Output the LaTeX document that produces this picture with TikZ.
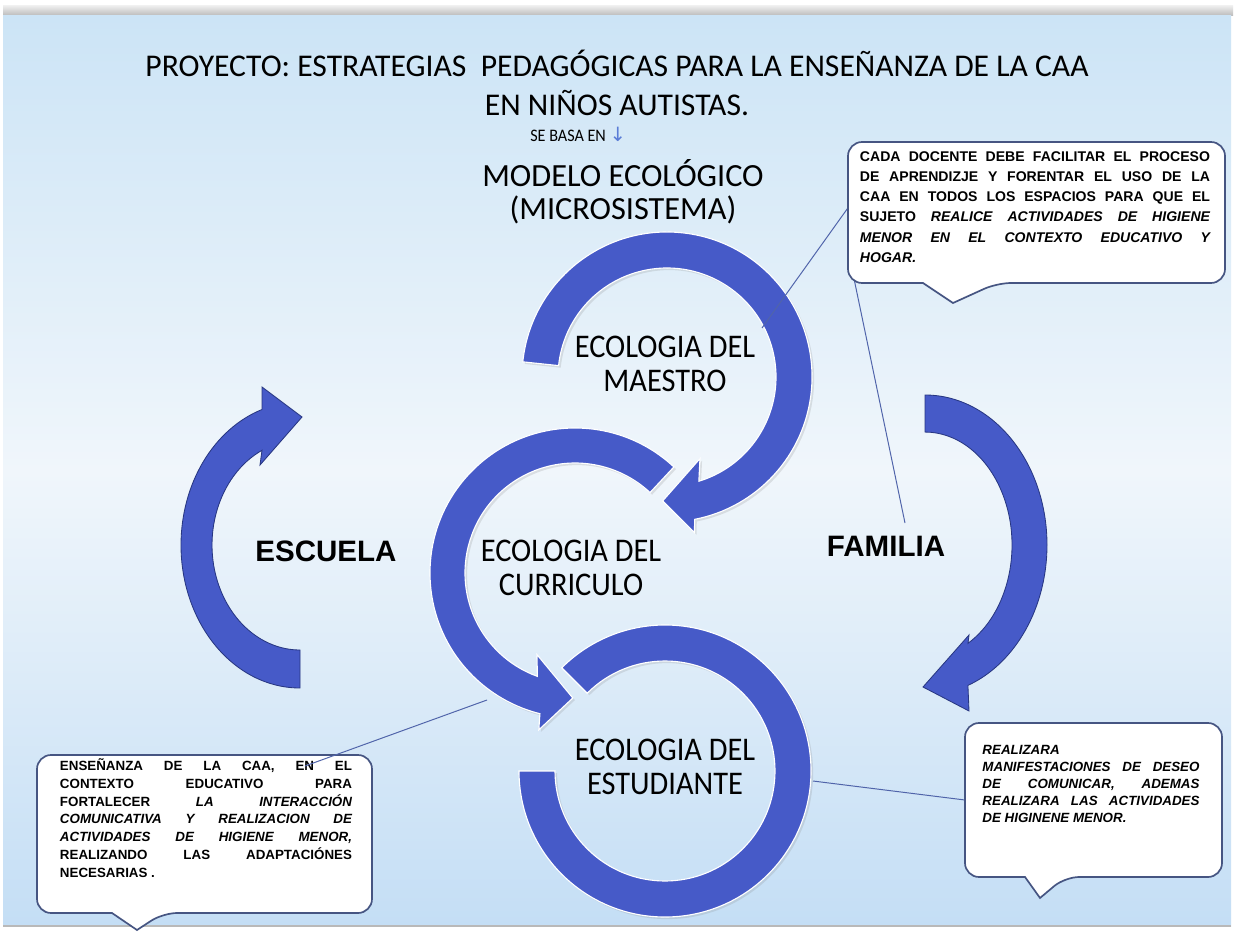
\documentclass[tikz,border=0pt]{standalone}
\usepackage{fontspec}
\usepackage{xcolor}
\usepackage{tikz}
\usetikzlibrary{shadows}
\setmainfont{Carlito}
\newfontfamily\condfont{Carlito}[FakeStretch=0.92]
\newfontfamily\boldfont{Liberation Sans}
\newfontfamily\boxfont{Liberation Sans}
\newfontfamily\symfont{DejaVu Sans}
\definecolor{ringblue}{RGB}{70,90,200}
\definecolor{edgeblue}{RGB}{40,55,130}
\definecolor{boxline}{RGB}{70,85,130}
\definecolor{lineblue}{RGB}{80,100,170}
\definecolor{arrowblue}{RGB}{90,125,215}
\definecolor{bgtop}{RGB}{204,228,246}
\definecolor{bgmid}{RGB}{240,246,251}
\definecolor{bgbot}{RGB}{196,222,245}
\newcommand*{\boxsetup}{\tolerance=9999\hyphenpenalty=10000\parindent=0pt}

\begin{document}
\begin{tikzpicture}[x=0.025cm, y=0.025cm,
    ringband/.style={fill=ringblue, draw=white, line width=0.8pt,
        drop shadow={opacity=0.2, shadow xshift=1.5pt, shadow yshift=-1.5pt}},
    sidearrow/.style={fill=ringblue, draw=edgeblue, line width=0.6pt},
    calloutbox/.style={fill=white, draw=boxline, line width=1.2pt, rounded corners=10pt},
    pointer/.style={draw=lineblue, line width=0.7pt},
    ringlabel/.style={font=\condfont\fontsize{23.5}{24}\selectfont, align=center, inner sep=0pt},
    sidelabel/.style={font=\boldfont\bfseries\fontsize{21}{21}\selectfont, inner sep=0pt},
    boxtext/.style={font=\boxfont\bfseries\fontsize{9.5}{12.7}\selectfont\boxsetup, align=justify, inner sep=0pt}]
    \useasboundingbox (0,0) rectangle (1236,-932);
    \fill[white] (0,0) rectangle (1236,-932);
    \shade[top color=gray!15, bottom color=gray!55] (3,-6) rectangle (1233,-16);
    \shade[top color=bgtop, bottom color=bgbot, middle color=bgmid] (3,-16) rectangle (1231,-926);
    \draw[gray!55, line width=1pt] (3,-926) -- (1231,-926);

    \node[font=\fontsize{22.5}{27.7}\selectfont, align=center] (title) at (617,-83)
        {PROYECTO: ESTRATEGIAS\ \ PEDAGÓGICAS PARA LA ENSEÑANZA DE LA CAA\\EN NIÑOS AUTISTAS.};
    \node[font=\condfont\fontsize{12.5}{12.5}\selectfont, anchor=base west, inner sep=0pt] (basa) at (530,-142)
        {SE BASA EN {\symfont\fontsize{14}{14}\selectfont\color{arrowblue}↓}};
    \node[font=\fontsize{23}{23.5}\selectfont, align=center] (modelo) at (623,-192)
        {MODELO ECOLÓGICO\\(MICROSISTEMA)};

    \draw[ringband, shift={(665,-771)}] (180:146) arc[start angle=180, end angle=495, radius=146]
        -- (135:110) arc[start angle=135, end angle=-180, radius=110] -- cycle;
    \draw[ringband, shift={(575,-573)}] (47:145) arc[start angle=47, end angle=256, radius=145]
        -- (257:161) -- (269:125) -- (245:90) -- (250:110) arc[start angle=250, end angle=47, radius=110] -- cycle;
    \draw[ringband, shift={(667,-377)}] (174:145) arc[start angle=174, end angle=-79, radius=145]
        -- (-80:158) -- (-92:124) -- (-68:88) -- (-73:109) arc[start angle=-73, end angle=174, radius=109] -- cycle;

    \draw[sidearrow, shift={(300,-545)}] (0,-143) arc[start angle=270, end angle=108.6, x radius=119, y radius=143]
        -- (-38,158) -- (2,128) -- (-40,80) -- (-38,94.7) arc[start angle=115.6, end angle=270, x radius=88, y radius=105] -- cycle;
    \draw[sidearrow, shift={(925,-545)}] (0,150) arc[start angle=90, end angle=-69.4, x radius=122, y radius=150]
        -- (44,-166) -- (-2,-142) -- (44,-90) -- (43,-98.3) arc[start angle=-60.4, end angle=90, x radius=87, y radius=113] -- cycle;

    \node[ringlabel] (maestro) at (665,-364) {ECOLOGIA DEL\\MAESTRO};
    \node[ringlabel] (curriculo) at (571,-568) {ECOLOGIA DEL\\CURRICULO};
    \node[ringlabel] (estudiante) at (665,-767) {ECOLOGIA DEL\\ESTUDIANTE};
    \node[sidelabel] (escuela) at (326,-551) {ESCUELA};
    \node[sidelabel] (familia) at (886,-546) {FAMILIA};

    \coordinate (docA) at (850,-205);
    \coordinate (maestroEnd) at (762,-328);
    \coordinate (docB) at (848,-250);
    \coordinate (familiaEnd) at (905,-523);
    \coordinate (reaA) at (965,-800);
    \coordinate (estEnd) at (813,-781);
    \coordinate (ensA) at (305,-766);
    \coordinate (curEnd) at (487,-700);
    \draw[pointer] (docA) -- (maestroEnd);
    \draw[pointer] (docB) -- (familiaEnd);
    \draw[pointer] (estEnd) -- (reaA);

    \draw[calloutbox] (848,-142) -- (1225,-142) -- (1225,-283) -- (997,-283)
        {[sharp corners] -- (953,-303) -- (923,-283)} -- (848,-283) -- cycle;
    \draw[calloutbox] (37,-755) -- (372,-755) -- (372,-913) -- (163,-913)
        {[sharp corners] -- (137,-930) -- (112,-913)} -- (37,-913) -- cycle;
    \draw[calloutbox] (965,-723) -- (1222,-723) -- (1222,-877) -- (1065,-877)
        {[sharp corners] -- (1040,-898) -- (1025,-877)} -- (965,-877) -- cycle;

    \node[boxtext, font=\boxfont\bfseries\fontsize{10}{14.4}\selectfont\boxsetup, text width=8.75cm] (docente) at (1035,-207)
        {CADA DOCENTE DEBE FACILITAR EL PROCESO\linebreak
        DE APRENDIZJE Y FORENTAR EL USO DE LA\linebreak
        CAA EN TODOS LOS ESPACIOS PARA QUE EL\linebreak
        SUJETO \textit{REALICE ACTIVIDADES DE HIGIENE\linebreak
        MENOR EN EL CONTEXTO EDUCATIVO Y\linebreak
        HOGAR.}};
    \node[boxtext, text width=7.3cm] (ensenanza) at (206,-818)
        {ENSEÑANZA DE LA CAA, EN EL\linebreak
        CONTEXTO EDUCATIVO PARA\linebreak
        FORTALECER \textit{LA INTERACCIÓN\linebreak
        COMUNICATIVA Y REALIZACION DE\linebreak
        ACTIVIDADES DE HIGIENE MENOR,}\linebreak
        REALIZANDO LAS ADAPTACIÓNES\linebreak
        NECESARIAS .};
    \node[boxtext, font=\boxfont\bfseries\fontsize{9.5}{12.1}\selectfont\boxsetup, text width=5.425cm] (realizara) at (1091,-784)
        {\textit{REALIZARA\\
        MANIFESTACIONES DE DESEO\linebreak
        DE COMUNICAR, ADEMAS\linebreak
        REALIZARA LAS ACTIVIDADES\linebreak
        DE HIGINENE MENOR.}};
    \draw[pointer] (ensA) -- (curEnd);
\end{tikzpicture}
\end{document}
